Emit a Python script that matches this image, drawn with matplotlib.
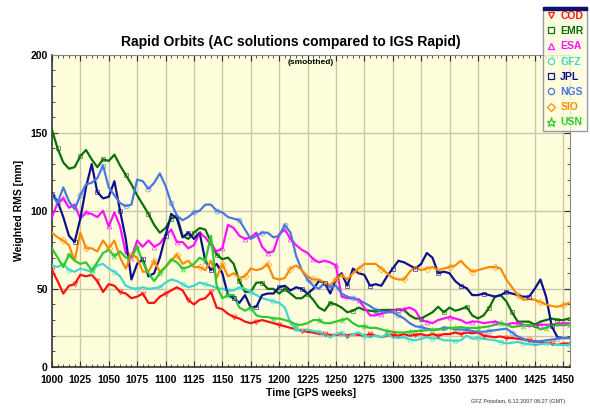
"""Rapid orbits: AC solutions compared to IGS Rapid (smoothed weighted RMS)."""

import matplotlib

matplotlib.use("Agg")
import matplotlib.pyplot as plt
from matplotlib.lines import Line2D
from matplotlib.patches import Rectangle

plt.rcParams["font.family"] = ["Liberation Sans", "DejaVu Sans"]

weeks = list(range(1000, 1456, 5))

cod = [62, 55, 47, 52, 53, 59, 58, 59, 55, 48,
       53, 52, 48, 47, 44, 45, 47, 41, 41, 45,
       47, 49, 51, 49, 43, 40, 43, 44, 48, 38,
       37, 34, 32, 31, 29, 28, 29, 30, 29, 28,
       27, 26, 25, 24, 23, 22.5, 22, 21, 21, 20.5,
       20.5, 21, 20, 21, 20.5, 20, 21, 20, 19, 20,
       20.5, 20, 21, 20, 20.5, 21, 20, 21, 20, 21,
       21, 22, 21, 22, 21.5, 22, 20, 19.5, 19, 19.5,
       18.5, 18.5, 18, 17.5, 17, 16.5, 16, 15.5, 15, 14,
       15, 15]
emr = [152, 140, 131, 127, 128, 135, 139, 133, 128, 133,
       132, 136, 129, 123, 117, 110, 104, 98, 91, 86,
       89, 95, 97, 84, 82, 86, 89, 88, 80, 72,
       69, 70, 66, 55, 48, 48, 54, 54, 50, 50,
       47, 50, 47, 44, 44, 47, 43, 38, 36, 41,
       40, 38, 35, 36, 38, 36.5, 36, 35.5, 36.5, 36.5,
       36.5, 36.5, 36.5, 33, 31, 31, 33, 35, 38.5, 35,
       38, 36, 37, 38.5, 33, 31, 33, 38, 45, 46,
       42, 35, 29, 29, 29, 27, 29, 30, 31, 30,
       30, 31]
esa = [96, 105, 108, 102, 104, 95, 99, 98, 96, 100,
       90, 99, 90, 73, 70, 81, 77, 81, 77, 79,
       84, 88, 80, 80, 76, 78, 86, 83, 78, 74,
       76, 91, 89, 84, 82, 83, 86, 77, 73, 74,
       85, 88, 82, 78, 75, 73, 69, 67, 68, 67,
       65, 45, 44, 44, 43, 38, 33, 33, 34, 35,
       36, 36.5, 37, 38, 36, 30, 29, 28, 30, 31,
       32, 31, 30, 28, 29, 29, 28, 28.5, 29, 28,
       27, 28, 28, 27, 26, 26.5, 27, 27, 27, 27.5,
       28, 28]
gfz = [65, 64, 66, 62, 61, 63, 62, 61, 65, 66,
       63, 61, 58, 52, 50.5, 50, 51, 50, 50.5, 51,
       54, 56, 55, 53, 51, 52, 54, 53, 52, 50.5,
       50, 49, 49, 51, 50, 48, 46, 44, 43, 42,
       41, 38, 28, 24, 23, 24, 23, 22.5, 21, 19,
       21, 22, 19, 21, 22, 20, 19, 20, 19, 21,
       19, 18.5, 19, 17.5, 17, 18, 19, 18, 18.5, 17,
       17, 16.5, 17, 20, 18, 18.5, 18, 17.5, 17, 16,
       15, 15.5, 16, 15, 14.5, 14, 14.5, 15, 14.5, 14,
       14, 14]
jpl = [111, 106, 96, 84, 80, 95, 115, 130, 112, 108,
       109, 119, 100, 82, 56, 66, 69, 58, 60, 70,
       84, 98, 95, 83, 86, 82, 86, 68, 62, 66,
       60, 46, 44, 41, 46, 38, 38.5, 46, 47, 47,
       51, 52, 49, 51, 50, 47, 50, 55, 54, 47,
       56, 60, 52, 63, 60, 59, 52, 53, 52, 58,
       63, 68, 67, 65, 63, 66, 73, 70, 60, 61,
       60, 55, 52, 50.5, 46, 46, 47, 46, 45, 46,
       48, 47, 46, 45, 45, 50, 56, 45, 26, 19,
       18.5, 18.5]
ngs = [110, 105, 115, 106, 101, 110, 117, 118, 121, 129,
       115, 110, 105, 103, 104, 120, 119, 114, 118, 124,
       116, 105, 97, 94, 96, 99, 100, 104, 104, 100,
       99, 96, 95, 94, 88, 82, 84, 86, 86, 83,
       84, 91, 86, 71, 62, 56, 52, 50, 54, 51,
       52, 47, 45, 44, 43, 41, 39, 36.5, 35.5, 35,
       35, 33, 31, 28, 26, 25.5, 24.5, 23.7, 24, 25,
       25, 24, 24, 23.7, 23, 22.5, 22.5, 23, 23.5, 24,
       24.5, 22, 19.5, 18, 16.5, 16, 16.5, 17, 17.5, 18,
       18.5, 18.5]
sio = [86, 83, 81, 78, 68, 86, 76, 76, 74, 81,
       76, 81, 70, 63, 72, 70, 61, 61, 68, 61,
       64, 68, 72, 66, 68, 64, 64, 62, 68, 57,
       66, 58, 60, 57, 58, 63, 62, 63, 66, 57,
       56, 57, 63, 65, 62, 58, 56, 56, 54, 52.5,
       56, 59, 56, 60, 63, 66, 66, 66, 63, 60,
       57, 56, 56, 61, 64, 62, 63, 64, 62, 63,
       64, 65, 68, 64, 61, 62, 63, 64, 64, 63,
       56, 51, 46, 43, 43.5, 43, 41.5, 40, 39, 38.5,
       39.5, 41]
usn = [76, 70, 64, 72, 68, 66, 67, 62, 67, 73,
       75, 71, 74, 70, 70, 77, 67, 60, 55, 60,
       64, 69, 67, 63, 64, 66, 70, 68, 84, 52,
       44, 46, 46, 38, 36, 38, 33, 32, 32, 31,
       31, 30, 29, 27, 27, 28, 30, 30, 28, 28,
       29, 30, 31, 28, 26, 26, 25, 25, 24, 23,
       22.5, 22, 22, 22.5, 23, 23, 23.5, 23.7, 24, 24,
       25, 25, 25.5, 25, 25, 25, 25.5, 26, 27, 28,
       27, 25.5, 26, 26.5, 27, 26, 24, 25, 27, 26.5,
       27, 27]

centers = ["COD", "EMR", "ESA", "GFZ", "JPL", "NGS", "SIO", "USN"]
series = [cod, emr, esa, gfz, jpl, ngs, sio, usn]
colors = ["#ff1010", "#0a6e0a", "#ff10ff", "#40d8cc", "#10108c", "#4a78e0", "#ff8c00", "#30c830"]
markers = ["v", "s", "^", "o", "s", "o", "D", "*"]

fig = plt.figure(figsize=(5.9, 4.09), dpi=100)
ax = fig.add_axes([0.088, 0.103, 0.878, 0.763])
ax.set_facecolor("#fefedc")

for i, (name, vals, col, mk) in enumerate(zip(centers, series, colors, markers)):
    ax.plot(weeks, vals, color=col, lw=1.6, solid_joinstyle="round", zorder=3)
    ax.plot(weeks, vals, ls="none", marker=mk, markevery=(i % 4, 4),
            ms=3.5 if mk != "*" else 5, mfc="none", mec=col, mew=0.6,
            alpha=0.7, zorder=4)

ax.set_xlim(1000, 1456)
ax.set_ylim(0, 200)
ax.set_xticks(range(1000, 1451, 25))
ax.set_xticks(range(1000, 1456, 5), minor=True)
ax.set_yticks([0, 50, 100, 150, 200])
ax.set_yticks(range(0, 201, 10), minor=True)
for x in range(1025, 1451, 25):
    ax.axvline(x, color="#c8c8a6", lw=1, zorder=1)
for y in [20, 50, 100, 150]:
    ax.axhline(y, color="#c8c8a6", lw=1, zorder=1)

ax.tick_params(axis="both", which="both", top=True, right=True, direction="in",
               labelsize=7.5, colors="#333333")
ax.tick_params(axis="x", pad=6)
ax.tick_params(axis="y", pad=3)
ax.tick_params(which="major", length=4)
ax.tick_params(which="minor", length=2)
for lab in ax.get_xticklabels() + ax.get_yticklabels():
    lab.set_fontweight("bold")
    lab.set_color("black")
for s in ["left", "bottom"]:
    ax.spines[s].set_color("#333333")
    ax.spines[s].set_linewidth(1.2)
for s in ["top", "right"]:
    ax.spines[s].set_color("#888888")

ax.set_xlabel("Time [GPS weeks]", fontsize=7.5, fontweight="bold", labelpad=2)
ax.set_ylabel("Weighted RMS [mm]", fontsize=7.5, fontweight="bold", labelpad=5)
fig.text(0.493, 0.897, "Rapid Orbits (AC solutions compared to IGS Rapid)",
         ha="center", va="center", fontsize=10, fontweight="bold")
ax.text(0.5, 0.985, "(smoothed)", transform=ax.transAxes, ha="center", va="top",
        fontsize=6, fontweight="bold")
fig.text(0.958, 0.012, "GFZ Potsdam, 6.12.2007 06:27 (GMT)", ha="right", va="bottom",
         fontsize=4, color="#333333")

handles = [Line2D([], [], ls="none", marker=mk, mfc="none", mec=col, mew=0.9,
                  ms=4.5 if mk != "*" else 6.5)
           for col, mk in zip(colors, markers)]
leg = fig.legend(handles, centers, loc="upper right", bbox_to_anchor=(1.004, 0.995),
                 frameon=True, fancybox=False, handlelength=0.8,
                 handletextpad=0.5, labelspacing=0.5, borderpad=0.35,
                 prop={"weight": "bold", "size": 7.5})
leg.get_frame().set_facecolor("#fefedc")
leg.get_frame().set_edgecolor("#8080a0")
for txt, col in zip(leg.get_texts(), colors):
    txt.set_color(col)

fig.canvas.draw()
bb = leg.get_window_extent().transformed(fig.transFigure.inverted())
fig.add_artist(Rectangle((bb.x0, bb.y1 - 0.006), bb.width, 0.006,
                         transform=fig.transFigure, color="#10106e", zorder=10))

fig.savefig("out.png", dpi=100)
